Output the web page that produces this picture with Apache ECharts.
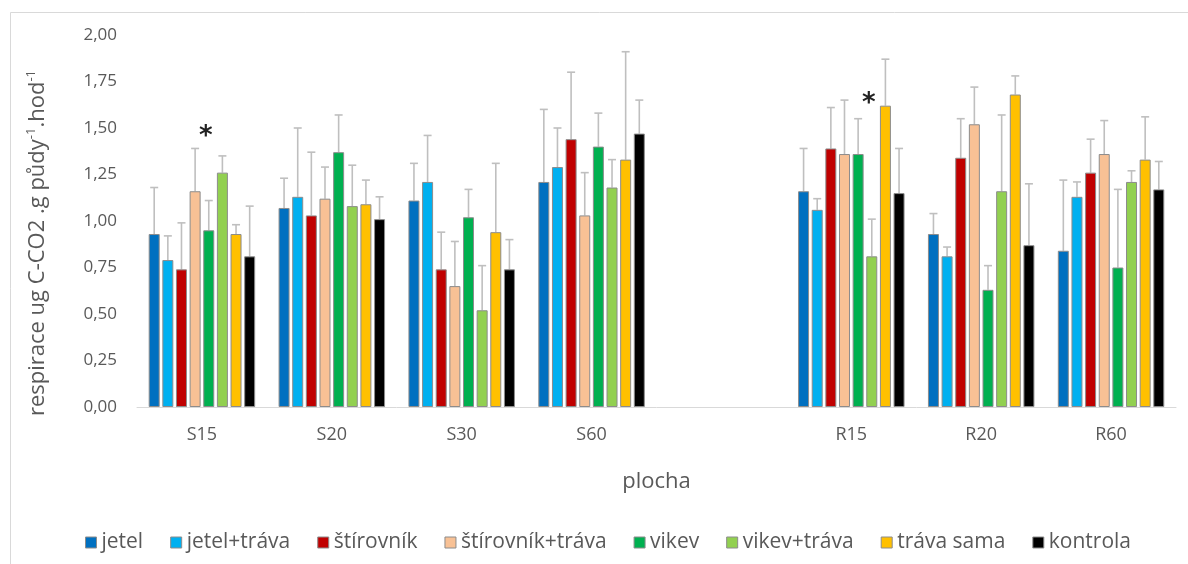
<!DOCTYPE html>
<html>
<head>
<meta charset="utf-8">
<script src="https://cdn.jsdelivr.net/npm/echarts@6/dist/echarts.min.js"></script>
<style>
  html, body { margin: 0; padding: 0; background: #fff; }
  #chart { width: 1188px; height: 564px; }
</style>
</head>
<body>
<div id="chart"></div>
<script>
// Sites (an empty slot separates the S and R groups)
const categories = ['S15', 'S20', 'S30', 'S60', '', 'R15', 'R20', 'R60'];

// Treatment names
const seriesNames = ['jetel', 'jetel+tráva', 'štírovník', 'štírovník+tráva', 'vikev', 'vikev+tráva', 'tráva sama', 'kontrola'];

// Mean respiration per treatment (ug C-CO2 .g půdy-1 .hod-1)
const jetel          = [0.93, 1.07, 1.11, 1.21, null, 1.16, 0.93, 0.84];
const jetelTrava     = [0.79, 1.13, 1.21, 1.29, null, 1.06, 0.81, 1.13];
const stirovnik      = [0.74, 1.03, 0.74, 1.44, null, 1.39, 1.34, 1.26];
const stirovnikTrava = [1.16, 1.12, 0.65, 1.03, null, 1.36, 1.52, 1.36];
const vikev          = [0.95, 1.37, 1.02, 1.40, null, 1.36, 0.63, 0.75];
const vikevTrava     = [1.26, 1.08, 0.52, 1.18, null, 0.81, 1.16, 1.21];
const travaSama      = [0.93, 1.09, 0.94, 1.33, null, 1.62, 1.68, 1.33];
const kontrola       = [0.81, 1.01, 0.74, 1.47, null, 1.15, 0.87, 1.17];

// Standard deviations (upper error bars)
const jetelSd          = [0.25, 0.16, 0.20, 0.39, null, 0.23, 0.11, 0.38];
const jetelTravaSd     = [0.13, 0.37, 0.25, 0.21, null, 0.06, 0.05, 0.08];
const stirovnikSd      = [0.25, 0.34, 0.20, 0.36, null, 0.22, 0.21, 0.18];
const stirovnikTravaSd = [0.23, 0.17, 0.24, 0.23, null, 0.29, 0.20, 0.18];
const vikevSd          = [0.16, 0.20, 0.15, 0.18, null, 0.19, 0.13, 0.42];
const vikevTravaSd     = [0.09, 0.22, 0.24, 0.15, null, 0.20, 0.41, 0.06];
const travaSamaSd      = [0.05, 0.13, 0.37, 0.58, null, 0.25, 0.10, 0.23];
const kontrolaSd       = [0.27, 0.12, 0.16, 0.18, null, 0.24, 0.33, 0.15];

// Significance marks: site, treatment the mark sits over, height of the mark
const signifSites  = ['S15', 'R15'];
const signifSeries = ['vikev', 'vikev+tráva'];
const signifValues = [1.45, 1.63];

// Y-axis ticks
const yMin = 0, yMax = 2, yStep = 0.25;

const means = [jetel, jetelTrava, stirovnik, stirovnikTrava, vikev, vikevTrava, travaSama, kontrola];
const sds = [jetelSd, jetelTravaSd, stirovnikSd, stirovnikTravaSd, vikevSd, vikevTravaSd, travaSamaSd, kontrolaSd];
const colors = ['#0070C0', '#00B0F0', '#C00000', '#F8C195', '#00B050', '#92D050', '#FFC000', '#000000'];

const FONT = '"Open Sans", "Noto Sans", sans-serif';
const TEXT = '#595959';
const BAR_W = 11;
const BAR_GAP = 0.24;          // gap between bars, as a share of bar width
const SLOT = BAR_W * (1 + BAR_GAP);

function slotOffset(i) { return (i - (seriesNames.length - 1) / 2) * SLOT; }

const barSeries = seriesNames.map((name, i) => ({
  name: name,
  type: 'bar',
  data: means[i],
  barWidth: BAR_W,
  barGap: (BAR_GAP * 100) + '%',
  itemStyle: { color: colors[i], borderColor: '#8c8c8c', borderWidth: 1 },
  z: 3,
  animation: false
}));

// Upper error bars with caps, offset to sit on each bar of the cluster
const errorData = [];
seriesNames.forEach((name, i) => {
  means[i].forEach((m, c) => {
    if (m != null && sds[i][c] != null) errorData.push([c, m, m + sds[i][c], i]);
  });
});
const errorSeries = {
  type: 'custom',
  name: 'err',
  data: errorData,
  z: 2,
  silent: true,
  animation: false,
  renderItem: function (params, api) {
    const c = api.value(0);
    const base = api.coord([c, api.value(1)]);
    const top = api.coord([c, api.value(2)]);
    const x = base[0] + slotOffset(api.value(3));
    const cap = 4;
    const style = { stroke: '#bfbfbf', lineWidth: 1.6 };
    return {
      type: 'group',
      children: [
        { type: 'line', shape: { x1: x, y1: base[1], x2: x, y2: top[1] }, style: style },
        { type: 'line', shape: { x1: x - cap, y1: top[1], x2: x + cap, y2: top[1] }, style: style }
      ]
    };
  }
};

// Asterisks marking significant differences
const starData = signifSites.map((s, k) => [categories.indexOf(s), signifValues[k], seriesNames.indexOf(signifSeries[k])]);
const starSeries = {
  type: 'custom',
  name: 'signif',
  data: starData,
  z: 4,
  silent: true,
  animation: false,
  renderItem: function (params, api) {
    const p = api.coord([api.value(0), api.value(1)]);
    return {
      type: 'text',
      x: p[0] + slotOffset(api.value(2)) - 3,
      y: p[1],
      style: {
        text: '*', fill: '#222', font: 'bold 26px "DejaVu Sans", sans-serif',
        align: 'center', verticalAlign: 'middle'
      }
    };
  }
};

const chart = echarts.init(document.getElementById('chart'), null, { renderer: 'canvas' });
chart.setOption({
  backgroundColor: '#ffffff',
  animation: false,
  graphic: [{
    type: 'rect',
    shape: { x: 10.5, y: 12.5, width: 1300, height: 700 },
    style: { fill: 'none', stroke: '#d9d9d9', lineWidth: 1 },
    silent: true,
    z: -1
  }],
  grid: { left: 137, right: 12, top: 35, bottom: 157 },
  legend: {
    data: seriesNames,
    left: 80,
    top: 527,
    icon: 'rect',
    itemWidth: 11,
    itemHeight: 11,
    itemGap: 27,
    textStyle: { fontFamily: FONT, fontSize: 21, color: TEXT },
    itemStyle: { borderColor: '#8c8c8c', borderWidth: 1 }
  },
  xAxis: {
    type: 'category',
    data: categories,
    name: 'plocha',
    nameLocation: 'middle',
    nameGap: 64,
    nameTextStyle: { fontFamily: FONT, fontSize: 22, color: TEXT },
    axisLine: { lineStyle: { color: '#d9d9d9', width: 1 } },
    axisTick: { show: false },
    axisLabel: { fontFamily: FONT, fontSize: 18, color: TEXT, margin: 19 },
    splitLine: { show: false }
  },
  yAxis: {
    type: 'value',
    min: yMin,
    max: yMax,
    interval: yStep,
    name: '{a|respirace ug C-CO2 .g půdy}{s|-1}{a|.hod}{s|-1}',
    nameLocation: 'middle',
    nameGap: 86,
    nameRotate: 90,
    nameTextStyle: {
      fontFamily: FONT, fontSize: 22, color: TEXT,
      padding: [0, 44, 0, 0],
      rich: {
        a: { fontFamily: FONT, fontSize: 22, color: TEXT, lineHeight: 26 },
        s: { fontFamily: FONT, fontSize: 13, color: TEXT, verticalAlign: 'top', lineHeight: 26 }
      }
    },
    axisLine: { show: false },
    axisTick: { show: false },
    splitLine: { show: false },
    axisLabel: {
      fontFamily: FONT, fontSize: 17, color: TEXT, margin: 20,
      formatter: v => v.toFixed(2).replace('.', ',')
    }
  },
  series: barSeries.concat([errorSeries, starSeries])
});
</script>
</body>
</html>
